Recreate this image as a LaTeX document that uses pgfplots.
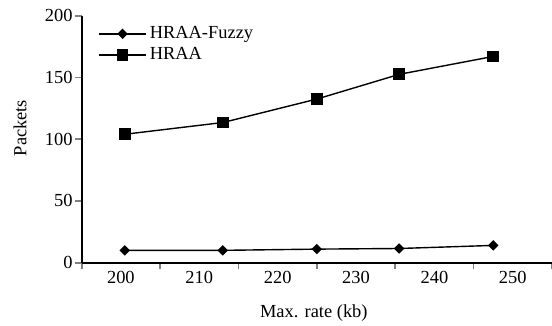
\documentclass[border=0pt]{standalone}
\usepackage{fontspec}
\setmainfont{Liberation Serif}
\usepackage{pgfplots}
\pgfplotsset{compat=1.18}
\begin{document}
\fontsize{18.5}{22}\selectfont
\begin{tikzpicture}
\begin{axis}[
  scale only axis,
  width=470.3bp, height=247bp,
  at={(81.7bp,63.3bp)}, anchor=south west,
  xmin=195, xmax=255, ymin=0, ymax=200,
  axis x line=bottom, axis y line=left,
  axis line style={-, line width=1.8bp},
  xtick={200,210,...,250},
  minor xtick={195,205,...,255},
  ytick={0,50,...,200},
  tick align=outside,
  major tick length=7bp,
  minor tick length=6.5bp,
  x tick style={line width=1.6bp},
  xtick style={/pgfplots/major tick length=0bp},
  y tick style={line width=1.8bp},
  /pgf/number format/assume math mode=true,
  /pgf/number format/1000 sep={},
  xticklabel style={inner sep=2bp, yshift=1bp},
  yticklabel style={inner sep=2bp},
  xlabel={Max. rate (kb)},
  ylabel={Packets},
  xlabel style={at={(axis description cs:0.5,0)}, anchor=center, yshift=-50.3bp, xshift=-3bp},
  ylabel style={at={(axis description cs:-0.1312,0.545)}, anchor=center},
  legend image code/.code={\draw[mark repeat=2,mark phase=2,#1] plot coordinates {(0bp,0bp)(23.5bp,0bp)(47bp,0bp)};},
  legend style={draw=none, fill=none, at={(axis cs:197.1,194)}, anchor=north west, inner sep=0pt,
    nodes={text height=13bp, text depth=4bp, inner xsep=3bp, inner ysep=2bp}, row sep=0pt},
  legend cell align=left,
]
\addplot[black, line width=1.4bp, mark=square*, mark size=3bp, mark options={rotate=45}]
  coordinates {(200.5,10) (213,10) (225,11) (235.5,11.5) (247.5,14)};
\addlegendentry{HRAA-Fuzzy}
\addplot[black, line width=1.4bp, mark=square*, mark size=5.2bp]
  coordinates {(200.5,104) (213,113.5) (225,132.5) (235.5,152.5) (247.5,167)};
\addlegendentry{HRAA}
\end{axis}
\pgfresetboundingbox
\useasboundingbox (0,0) rectangle (552bp,326bp);
\end{tikzpicture}
\end{document}
